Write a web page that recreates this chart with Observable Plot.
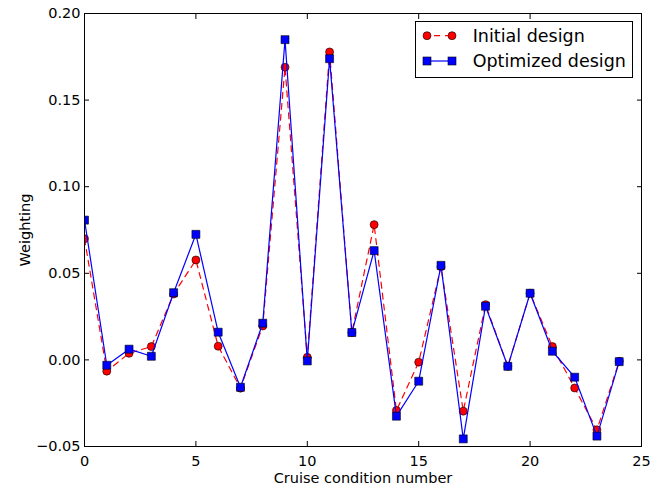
<!DOCTYPE html>
<html><head><meta charset="utf-8">
<script src="https://cdn.jsdelivr.net/npm/d3@7"></script>
<script src="https://cdn.jsdelivr.net/npm/@observablehq/plot@0.6"></script>
<style>
body{margin:0;background:#fff;}
#wrap{position:relative;width:662px;height:485px;font-family:"DejaVu Sans",sans-serif;}
#legend{position:absolute;left:0;top:0;pointer-events:none;}
</style>
</head><body><div id="wrap"></div>
<script>
const conditions = [0,1,2,3,4,5,6,7,8,9,10,11,12,13,14,15,16,17,18,19,20,21,22,23,24];
const initialDesign = [0.070,-0.0065,0.0038,0.0077,0.038,0.0577,0.0079,-0.0163,0.0196,0.169,0.0015,0.1778,0.0158,0.0781,-0.0292,-0.0013,0.0538,-0.0296,0.0319,-0.0037,0.0385,0.0077,-0.0162,-0.0404,-0.0008];
const optimizedDesign = [0.0807,-0.0031,0.0062,0.0021,0.0388,0.0725,0.016,-0.0158,0.0212,0.1849,-0.0006,0.1739,0.0158,0.0631,-0.0325,-0.0123,0.0546,-0.0456,0.031,-0.0037,0.0385,0.005,-0.010,-0.044,-0.001];
const xTicks = [0,5,10,15,20,25];
const yTicks = [-0.05,0,0.05,0.10,0.15,0.20];
const seriesNames = ["Initial design","Optimized design"];
const seriesColors = ["#ff0000","#0000ff"];
const xLabel = "Cruise condition number";
const yLabel = "Weighting";

const rows = conditions.map((c,i)=>({c, initial: initialDesign[i], optimized: optimizedDesign[i]}));
const fs = 14.5;
const chart = Plot.plot({
  width: 662, height: 485,
  marginLeft: 84, marginRight: 21, marginTop: 13, marginBottom: 39,
  style: {fontFamily: "DejaVu Sans", fontSize: fs + "px", background: "white", color: "black", overflow: "visible"},
  x: {domain: [0,25]},
  y: {domain: [-0.05,0.20]},
  marks: [
    Plot.line(rows, {x:"c", y:"initial", stroke: seriesColors[0], strokeWidth: 1.2, strokeDasharray: "6,5", clip: true}),
    Plot.dot(rows, {x:"c", y:"initial", r: 4, fill: seriesColors[0], stroke: "black", strokeWidth: 0.6, clip: true}),
    Plot.line(rows, {x:"c", y:"optimized", stroke: seriesColors[1], strokeWidth: 1.2, clip: true}),
    Plot.dot(rows, {x:"c", y:"optimized", symbol: "square", r: 4.5, fill: seriesColors[1], stroke: "black", strokeWidth: 0.6, clip: true}),
    Plot.frame({stroke: "black", strokeWidth: 1}),
    Plot.axisX({anchor: "bottom", ticks: xTicks, tickSize: -5, tickPadding: 14, label: null, fontSize: fs}),
    Plot.axisX({anchor: "top", ticks: xTicks, tickSize: -5, tickFormat: () => "", label: null}),
    Plot.axisY({anchor: "left", ticks: yTicks, tickSize: -5, tickPadding: 9, tickFormat: d3.format(".2f"), label: null, fontSize: fs}),
    Plot.axisY({anchor: "right", ticks: yTicks, tickSize: -5, tickFormat: () => "", label: null}),
    Plot.text([xLabel], {frameAnchor: "bottom", lineAnchor: "middle", textAnchor: "middle", dy: 31.5, fontSize: fs, text: d => d}),
    Plot.text([yLabel], {frameAnchor: "left", lineAnchor: "middle", textAnchor: "middle", dx: -59.3, rotate: -90, fontSize: fs, text: d => d})
  ]
});
const wrap = document.getElementById("wrap");
wrap.appendChild(chart);

// legend overlay
const svg = d3.select(wrap).append("svg").attr("id","legend").attr("width",662).attr("height",485);
svg.append("rect").attr("x",415.5).attr("y",21.5).attr("width",217).attr("height",56)
  .attr("fill","white").attr("stroke","black").attr("stroke-width",1);
const rowY = [35.7, 61];
seriesNames.forEach((name,i)=>{
  const g = svg.append("g");
  g.append("line").attr("x1",427).attr("x2",452).attr("y1",rowY[i]).attr("y2",rowY[i])
    .attr("stroke",seriesColors[i]).attr("stroke-width",1.2).attr("stroke-dasharray", i===0 ? "6,5" : null)
    .attr("stroke-dashoffset", i===0 ? -7 : null);
  [427,452].forEach(x=>{
    if (i===0) g.append("circle").attr("cx",x).attr("cy",rowY[i]).attr("r",4).attr("fill",seriesColors[i]).attr("stroke","black").attr("stroke-width",0.6);
    else g.append("rect").attr("x",x-4).attr("y",rowY[i]-4).attr("width",8).attr("height",8).attr("fill",seriesColors[i]).attr("stroke","black").attr("stroke-width",0.6);
  });
  g.append("text").attr("x",472.7).attr("y",rowY[i]).attr("dy","0.36em")
    .attr("font-family","DejaVu Sans").attr("font-size",17.5).attr("fill","black").text(name);
});
</script>
</body></html>
